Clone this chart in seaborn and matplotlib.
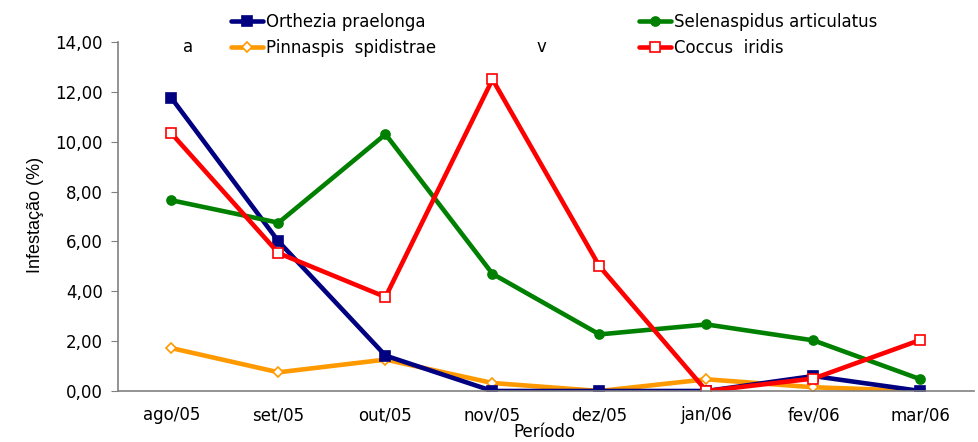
import pandas as pd
import matplotlib
matplotlib.use("Agg")
import matplotlib.pyplot as plt
import seaborn as sns

# --- Data ---
periodos = ["ago/05", "set/05", "out/05", "nov/05", "dez/05", "jan/06", "fev/06", "mar/06"]
orthezia = [11.75, 6.0, 1.42, 0.0, 0.0, 0.0, 0.6, 0.0]
selenaspidus = [7.65, 6.75, 10.3, 4.7, 2.27, 2.67, 2.03, 0.47]
pinnaspis = [1.72, 0.75, 1.26, 0.32, 0.0, 0.47, 0.15, 0.0]
coccus = [10.33, 5.53, 3.77, 12.5, 5.0, 0.0, 0.5, 2.05]

series = [
    ("Orthezia praelonga", orthezia, "#000080", "s", "#000080"),
    ("Pinnaspis  spidistrae", pinnaspis, "#FF9900", "D", "white"),
    ("Selenaspidus articulatus", selenaspidus, "#008000", "o", "#008000"),
    ("Coccus  iridis", coccus, "#FF0000", "s", "white"),
]

sns.set_style("white")
plt.rcParams["font.family"] = ["DejaVu Sans"]
plt.rcParams["text.color"] = "black"
plt.rcParams["xtick.color"] = "black"
plt.rcParams["ytick.color"] = "black"

fig = plt.figure(figsize=(9.79, 4.42), dpi=100)
ax = fig.add_axes([118 / 979, 1 - 391 / 442, (974 - 118) / 979, (391 - 42) / 442])

draw_order = [1, 0, 2, 3]
for idx in draw_order:
    name, vals, color, mk, face = series[idx]
    ms = 5 if mk == "D" else 6.5
    sns.lineplot(x=periodos, y=vals, ax=ax, color=color, linewidth=3.3, marker=mk,
                 markersize=ms, markerfacecolor=face, markeredgecolor=color,
                 markeredgewidth=1.2, label=name, sort=False)

ax.set_xlim(-0.5, 7.5)
ax.set_ylim(0, 14)
ax.set_yticks(range(0, 15, 2))
ax.set_yticklabels([f"{v},00" for v in range(0, 15, 2)], fontsize=12)
ax.set_xticks(range(len(periodos)))
ax.set_xticklabels(periodos, fontsize=12)
ax.set_xticks([i - 0.5 for i in range(len(periodos) + 1)], minor=True)
ax.tick_params(axis="x", which="major", length=0, pad=11)
ax.tick_params(axis="x", which="minor", length=5, color="#808080", direction="out")
ax.tick_params(axis="y", length=5, color="#808080", labelcolor="black",
               direction="out", left=True, pad=6)

for s in ["top", "right"]:
    ax.spines[s].set_visible(False)
for s in ["left", "bottom"]:
    ax.spines[s].set_color("#808080")
    ax.spines[s].set_linewidth(1.2)

ax.set_xlabel("")
ax.set_ylabel("")
fig.text(35 / 979, 1 - 215 / 442, "Infestação (%)", rotation=90, ha="center", va="center",
         fontsize=13, family=["Liberation Sans"])
fig.text(544 / 979, 1 / 442, "Período", ha="center", va="bottom", fontsize=12)

# legend
handles, labels = ax.get_legend_handles_labels()
order = [labels.index(n) for n in ["Orthezia praelonga", "Pinnaspis  spidistrae",
                                    "Selenaspidus articulatus", "Coccus  iridis"]]
ax.legend([handles[i] for i in order], [labels[i] for i in order], ncol=2,
          loc="center left", bbox_to_anchor=(231 / 979, 1 - 35 / 442),
          bbox_transform=fig.transFigure, frameon=False, fontsize=12,
          handlelength=1.9, handletextpad=0.2, columnspacing=12.2, labelspacing=0.45,
          borderaxespad=0, borderpad=0)

fig.text(188 / 979, 1 - 47 / 442, "a", ha="center", va="center", fontsize=12)
fig.text(541 / 979, 1 - 47 / 442, "v", ha="center", va="center", fontsize=12)

fig.savefig("out.png", dpi=100)
plt.close(fig)
